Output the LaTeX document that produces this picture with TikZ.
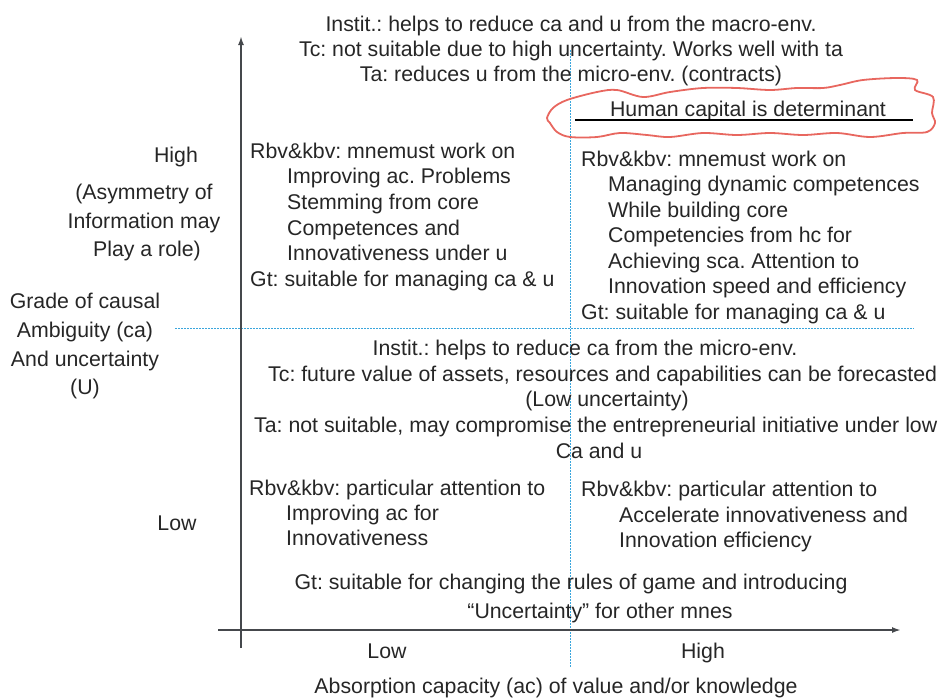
\documentclass[tikz,border=0pt]{standalone}
\usepackage{fontspec}
\setmainfont{Liberation Sans}
\usetikzlibrary{arrows.meta}
\definecolor{axisgray}{HTML}{45484C}
\definecolor{splitblue}{HTML}{3AA6DD}
\definecolor{markred}{HTML}{E8675F}

\begin{document}
\frenchspacing
\begin{tikzpicture}[x=1pt,y=-1pt,>={Latex[length=9pt,width=6pt]},
   txt/.style={font=\fontsize{21.3}{25.5}\selectfont,text=black!85,inner sep=0pt},
   lline/.style={txt,anchor=base west},
   cline/.style={txt,anchor=base},
   split/.style={splitblue,line width=0.8pt,dash pattern=on 2pt off 1pt},
   axis/.style={axisgray,line width=1.8pt}]
   \useasboundingbox (0,0) rectangle (939,699);
   % Axis ends
   \coordinate (yBot) at (241,648);
   \coordinate (yTop) at (241,36);
   \coordinate (xLeft) at (218,630);
   \coordinate (xRight) at (901,630);
   % Dotted quadrant lines (drawn first, below the text)
   \coordinate (hLeft) at (175,328);
   \coordinate (hRight) at (914,328);
   \coordinate (vTop) at (570,50);
   \coordinate (vBot) at (570,667);
   \draw [split] (hLeft) -- (hRight);
   \draw [split] (vTop) -- (vBot);
   % Axes
   \draw [axis,->] (yBot) -- (yTop);
   \draw [axis,->] (xLeft) -- (xRight);
   % Top block
   \node [cline] (topA) at (571,31) {Instit.: helps to reduce ca and u from the macro-env.};
   \node [cline] (topB) at (571,56) {Tc: not suitable due to high uncertainty. Works well with ta};
   \node [cline] (topC) at (571,81) {Ta: reduces u from the micro-env. (contracts)};
   % Highlighted statement
   \node [cline] (human) at (748,116) {Human capital is determinant};
   \coordinate (ulLeft) at (575,120);
   \coordinate (ulRight) at (913,120);
   \draw [black,line width=1.8pt] (ulLeft) -- (ulRight);
   \draw [markred,line width=1.8pt] plot [smooth cycle,tension=0.55] coordinates {
        (547,118) (553,108) (567,100) (597,92) (617,90) (643,97) (670,92)
        (703,88) (737,88) (770,90) (797,88) (823,88) (840,85) (863,80)
        (897,78) (917,80) (915,90) (933,97) (932,113) (935,123) (927,132)
        (903,133) (870,137) (837,133) (803,135) (770,133) (737,135)
        (703,133) (670,137) (647,135) (620,133) (597,137) (570,137)
        (557,132) (550,123)};
   % Upper left quadrant
   \node [lline] (ulA) at (250,158) {Rbv\&kbv: mnemust work on};
   \node [lline] (ulB) at (287,183) {Improving ac. Problems};
   \node [lline] (ulC) at (287,209) {Stemming from core};
   \node [lline] (ulD) at (287,235) {Competences and};
   \node [lline] (ulE) at (287,260) {Innovativeness under u};
   \node [lline] (ulF) at (250,286) {Gt: suitable for managing ca \& u};
   % Upper right quadrant
   \node [lline] (urA) at (581,166) {Rbv\&kbv: mnemust work on};
   \node [lline] (urB) at (608,191) {Managing dynamic competences};
   \node [lline] (urC) at (608,217) {While building core};
   \node [lline] (urD) at (608,242) {Competencies from hc for};
   \node [lline] (urE) at (608,268) {Achieving sca. Attention to};
   \node [lline] (urF) at (608,293) {Innovation speed and efficiency};
   \node [lline] (urG) at (581,319) {Gt: suitable for managing ca \& u};
   % Vertical axis labels
   \node [cline] (yHigh) at (176,162) {High};
   \node [cline] (asymA) at (144,199) {(Asymmetry of};
   \node [cline] (asymB) at (144,228) {Information may};
   \node [cline] (asymC) at (147,256) {Play a role)};
   \node [cline] (gradeA) at (85,308) {Grade of causal};
   \node [cline] (gradeB) at (85,337) {Ambiguity (ca)};
   \node [cline] (gradeC) at (85,366) {And uncertainty};
   \node [cline] (gradeD) at (85,394) {(U)};
   \node [cline] (yLow) at (177,530) {Low};
   % Middle block
   \node [cline] (midA) at (585,355) {Instit.: helps to reduce ca from the micro-env.};
   \node [lline] (midB) at (268,381) {Tc: future value of assets, resources and capabilities can be forecasted};
   \node [cline] (midC) at (607,406) {(Low uncertainty)};
   \node [lline] (midD) at (254,432) {Ta: not suitable, may compromise the entrepreneurial initiative under low};
   \node [cline] (midE) at (599,458) {Ca and u};
   % Lower left quadrant
   \node [lline] (llA) at (249,495) {Rbv\&kbv: particular attention to};
   \node [lline] (llB) at (286,520) {Improving ac for};
   \node [lline] (llC) at (286,545) {Innovativeness};
   % Lower right quadrant
   \node [lline] (lrA) at (581,496) {Rbv\&kbv: particular attention to};
   \node [lline] (lrB) at (619,522) {Accelerate innovativeness and};
   \node [lline] (lrC) at (619,547) {Innovation efficiency};
   % Bottom block
   \node [cline] (botA) at (571,589) {Gt: suitable for changing the rules of game and introducing};
   \node [cline] (botB) at (600,618) {“Uncertainty” for other mnes};
   % Horizontal axis labels
   \node [cline] (xLow) at (387,658) {Low};
   \node [cline] (xHigh) at (703,658) {High};
   \node [cline] (xTitle) at (556,693) {Absorption capacity (ac) of value and/or knowledge};
\end{tikzpicture}
\end{document}
